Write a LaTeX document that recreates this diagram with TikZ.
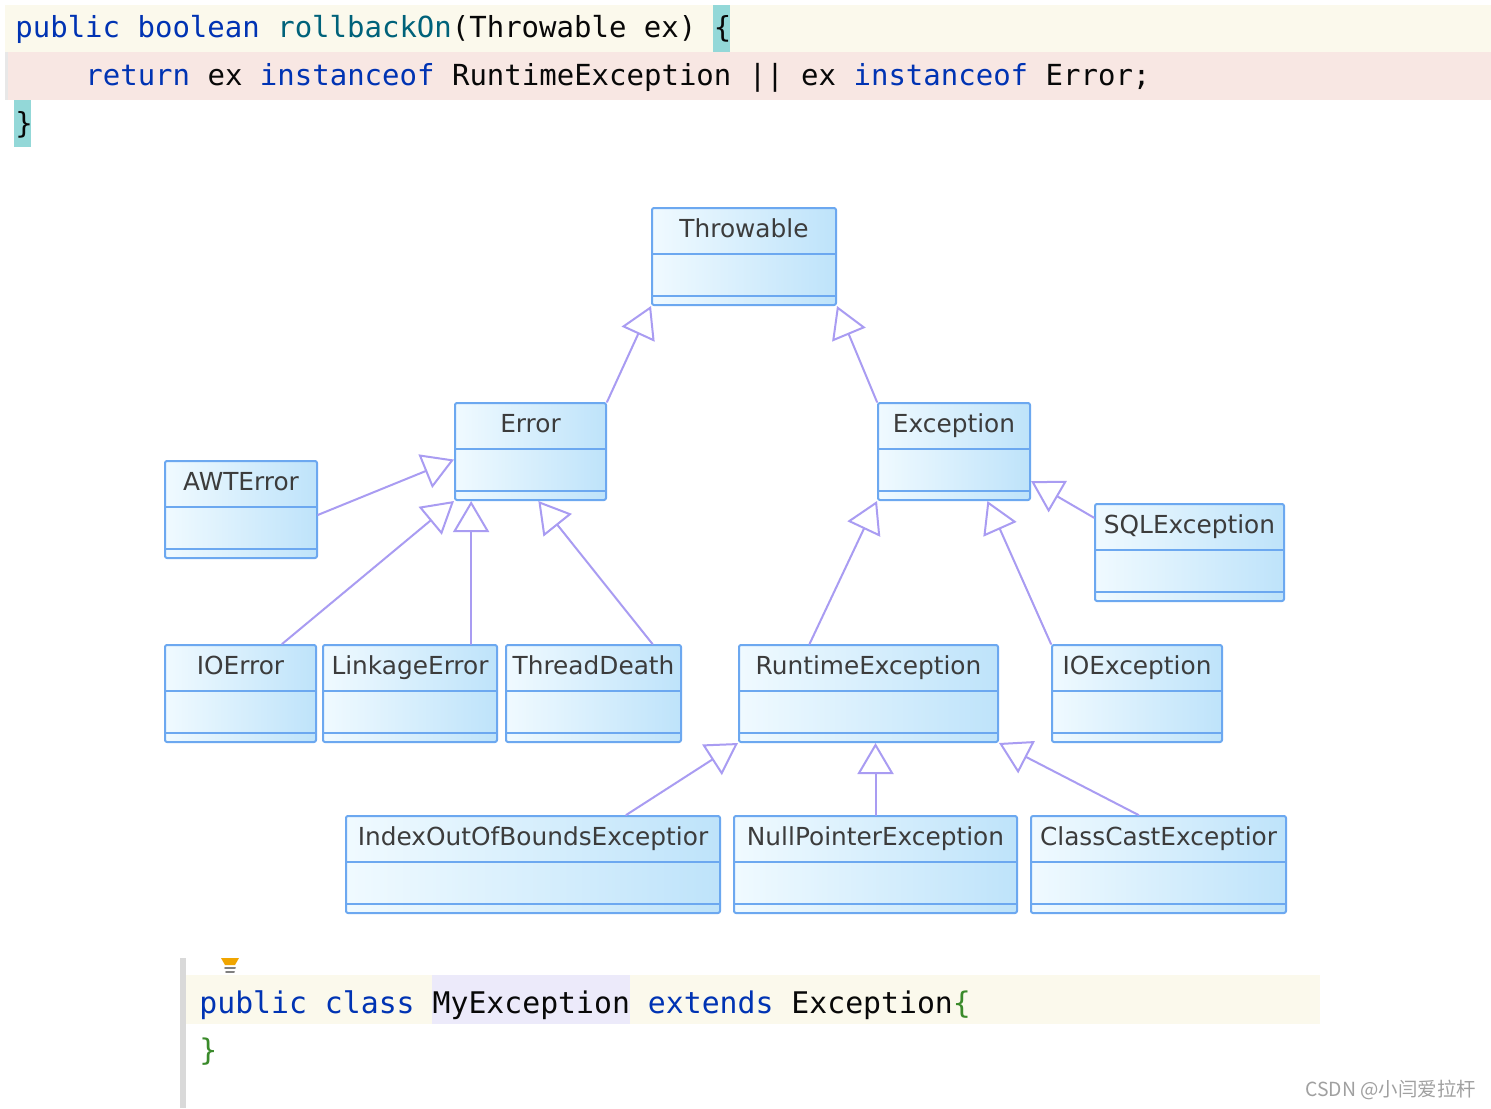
\documentclass[tikz,border=0pt]{standalone}
\usepackage{fontspec}
\setmonofont{DejaVu Sans Mono}
\newfontfamily\umlfont{DejaVu Sans}
\newfontfamily\cjkfont{Noto Sans CJK SC}
\usetikzlibrary{arrows.meta,calc}
\definecolor{kw}{HTML}{0033B3}
\definecolor{fn}{HTML}{00627A}
\definecolor{txt}{HTML}{080808}
\definecolor{brc}{HTML}{3A8A2A}
\definecolor{lineyel}{HTML}{FBF9EC}
\definecolor{linepink}{HTML}{F8E7E3}
\definecolor{bracehl}{HTML}{93D8D8}
\definecolor{namehl}{HTML}{ECEAFA}
\definecolor{gutter}{HTML}{D9D9D9}
\definecolor{umlblue}{HTML}{6CA8F0}
\definecolor{boxl}{HTML}{F0FAFF}
\definecolor{boxr}{HTML}{BEE3FA}
\definecolor{umltext}{HTML}{3C3C3C}
\definecolor{genc}{HTML}{A99CF2}
\definecolor{bulb}{HTML}{F0A500}
\definecolor{wm}{HTML}{A0A0A0}
\tikzset{
  every picture/.style={line join=round, line cap=round},
  code/.style={anchor=base west, inner sep=0pt, font=\ttfamily\fontsize{14.5}{17}\selectfont, text=txt},
  codebig/.style={code, font=\ttfamily\fontsize{14.9}{17}\selectfont},
  cls/.style={rectangle, draw=umlblue, line width=1pt, left color=boxl, right color=boxr,
    anchor=north west, inner xsep=0pt, inner ysep=0pt, minimum height=48.5pt,
    text height=14.8pt, text depth=33.7pt, rounded corners=1pt,
    font=\umlfont\fontsize{12.4}{14}\selectfont, text=umltext,
    path picture={
      \draw[umlblue, line width=1pt]
        ([yshift=-23pt]path picture bounding box.north west) -- ([yshift=-23pt]path picture bounding box.north east)
        ([yshift=-44pt]path picture bounding box.north west) -- ([yshift=-44pt]path picture bounding box.north east);
    }},
  gen/.style={draw=genc, line width=1pt, -{Triangle[open, length=15.5pt, width=18pt, line width=1pt]}},
}

\begin{document}
\begin{tikzpicture}[x=0.5pt, y=-0.5pt]
\useasboundingbox (0,0) rectangle (1491,1108);
\fill[white] (0,0) rectangle (1491,1108);

% code at the top
\fill[lineyel] (5,5) rectangle (1491,52);
\fill[linepink] (5,52) rectangle (1491,100);
\fill[gutter!60] (5,52) rectangle (8,100);
\fill[bracehl] (713,5) rectangle (730,52);
\fill[bracehl] (14,100) rectangle (31,147);
\node[code] (sig) at (15,37) {\textcolor{kw}{public boolean} \textcolor{fn}{rollbackOn}(Throwable ex) \{};
\node[code] (ret) at (85,85) {\textcolor{kw}{return} ex \textcolor{kw}{instanceof} RuntimeException || ex \textcolor{kw}{instanceof} Error;};
\node[code] (cl) at (15,133) {\}};

% class boxes
\node[cls, minimum width=92pt] (thr) at (651,207) {Throwable};
\node[cls, minimum width=75.5pt] (err) at (454,402) {Error};
\node[cls, minimum width=76pt] (exc) at (877,402) {Exception};
\node[cls, minimum width=76pt] (awt) at (164,460) {AWTError};
\node[cls, minimum width=94.5pt] (sql) at (1094,503) {SQLException};
\node[cls, minimum width=75.5pt] (ioerr) at (164,644) {IOError};
\node[cls, minimum width=87pt] (lnk) at (322,644) {LinkageError};
\node[cls, minimum width=87.5pt] (thd) at (505,644) {ThreadDeath};
\node[cls, minimum width=129.5pt] (rte) at (738,644) {RuntimeException};
\node[cls, minimum width=85pt] (ioexc) at (1051,644) {IOException};
\node[cls, minimum width=187pt] (idx) at (345,815) {IndexOutOfBoundsExceptior};
\node[cls, minimum width=141.5pt] (npe) at (733,815) {NullPointerException};
\node[cls, minimum width=127.5pt] (cce) at (1030,815) {ClassCastExceptior};

% generalizations
\draw[gen] (err.north east) -- (thr.south west);
\draw[gen] (exc.north west) -- (thr.south east);
\draw[gen] (awt.356) -- (err.186);
\draw[gen] (ioerr.50) -- (err.south west);
\draw[gen] (lnk.39) -- (lnk.39 |- err.south);
\draw[gen] (thd.40) -- (err.279);
\draw[gen] (rte.140) -- (exc.south west);
\draw[gen] (ioexc.north west) -- (exc.304);
\draw[gen] (sql.160) -- (exc.339);
\draw[gen] (idx.28) -- (rte.south west);
\draw[gen] (npe.north) -- (npe.north |- rte.south);
\draw[gen] (cce.112) -- (rte.south east);

% code at the bottom
\fill[gutter] (180,958) rectangle (186,1108);
\fill[lineyel] (186,975) rectangle (1320,1024);
\fill[namehl] (432,975) rectangle (630,1024);
\fill[bulb] (221,958) -- (239,958) -- (235,965) -- (225,965) -- cycle;
\draw[gray, line width=1pt] (225,968) -- (235,968) (226,972) -- (234,972);
\node[codebig] (decl) at (199,1013) {\textcolor{kw}{public class} MyException \textcolor{kw}{extends} Exception\textcolor{brc}{\{}};
\node[codebig] (close) at (199,1060) {\textcolor{brc}{\}}};

\node[anchor=base west, inner sep=0pt, text=wm, font=\cjkfont\fontsize{9.7}{11}\selectfont] (mark) at (1305,1096) {CSDN @小闫爱拉杆};
\end{tikzpicture}
\end{document}
